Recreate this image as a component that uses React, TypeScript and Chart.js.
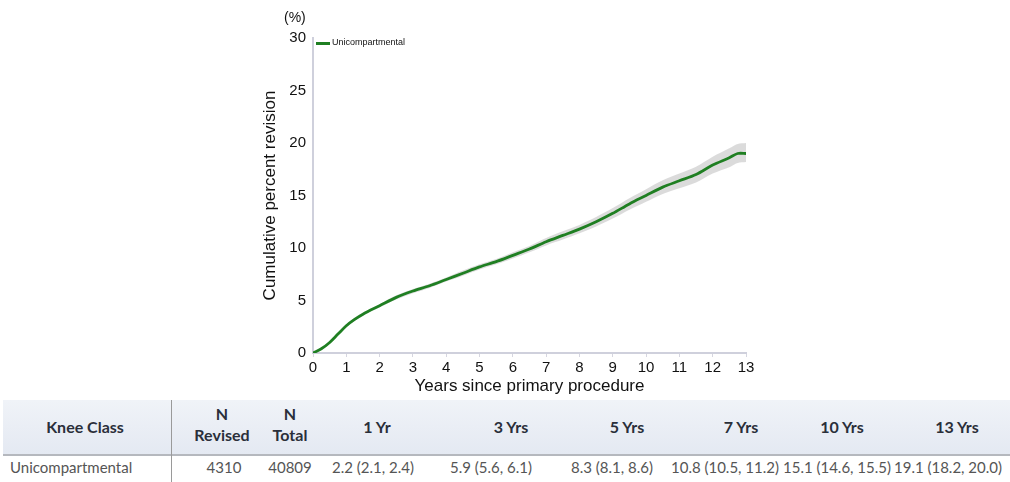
import React, { useEffect, useRef } from "react";
import { Chart, registerables } from "chart.js";

Chart.register(...registerables);

const years = [0, 0.25, 0.5, 0.75, 1, 1.25, 1.5, 2, 2.5, 3, 3.5, 4, 4.5, 5, 5.5, 6, 6.5, 7, 7.5, 8, 8.5, 9, 9.5, 10, 10.5, 11, 11.5, 12, 12.5, 12.75, 13];
const cumulative = [0, 0.4, 1.0, 1.8, 2.6, 3.2, 3.7, 4.5, 5.3, 5.9, 6.4, 7.0, 7.6, 8.2, 8.7, 9.3, 9.9, 10.6, 11.2, 11.8, 12.5, 13.3, 14.2, 15.0, 15.8, 16.4, 17.0, 17.9, 18.6, 19.0, 19.0];
const lowerCI = [0, 0.35, 0.9, 1.7, 2.45, 3.05, 3.55, 4.35, 5.1, 5.7, 6.2, 6.8, 7.35, 7.95, 8.45, 9.0, 9.6, 10.25, 10.8, 11.4, 12.05, 12.8, 13.65, 14.4, 15.15, 15.7, 16.25, 17.1, 17.7, 18.1, 18.2];
const upperCI = [0, 0.45, 1.1, 1.9, 2.75, 3.35, 3.85, 4.65, 5.5, 6.1, 6.6, 7.2, 7.85, 8.45, 8.95, 9.6, 10.2, 10.95, 11.6, 12.2, 12.95, 13.8, 14.75, 15.6, 16.45, 17.1, 17.75, 18.7, 19.5, 19.9, 20.0];

const yTicks = [0, 5, 10, 15, 20, 25, 30];
const xTickMax = 13;

const legendLabel = "Unicompartmental";
const yTitle = "Cumulative percent revision";
const xTitle = "Years since primary procedure";

const tableHeaders = ["Knee Class", "N\nRevised", "N\nTotal", "1 Yr", "3 Yrs", "5 Yrs", "7 Yrs", "10 Yrs", "13 Yrs"];
const tableRow = ["Unicompartmental", "4310", "40809", "2.2 (2.1, 2.4)", "5.9 (5.6, 6.1)", "8.3 (8.1, 8.6)", "10.8 (10.5, 11.2)", "15.1 (14.6, 15.5)", "19.1 (18.2, 20.0)"];

const headerCenters = [85, 222, 290, 377, 511, 627, 741, 842, 957];
const rowCenters = [null, 224, 290, 373, 491, 612, 725, 837, 948];

const GREEN = "#1f7f22";

export default function App() {
  const ref = useRef<HTMLCanvasElement | null>(null);

  useEffect(() => {
    if (!ref.current) return;
    const chart = new Chart(ref.current, {
      type: "line",
      data: {
        datasets: [
          {
            label: legendLabel,
            data: years.map((x, i) => ({ x, y: cumulative[i] })),
            borderColor: GREEN,
            borderWidth: 2.8,
            pointRadius: 0,
            fill: false,
            tension: 0.3,
            order: 0,
          },
          {
            label: "lower",
            data: years.map((x, i) => ({ x, y: lowerCI[i] })),
            borderWidth: 0,
            pointRadius: 0,
            fill: false,
            tension: 0.3,
            borderColor: "rgba(0,0,0,0)",
            order: 2,
          },
          {
            label: "upper",
            data: years.map((x, i) => ({ x, y: upperCI[i] })),
            borderWidth: 0,
            pointRadius: 0,
            fill: "-1",
            backgroundColor: "rgba(190,190,190,0.55)",
            tension: 0.3,
            borderColor: "rgba(0,0,0,0)",
            order: 1,
          },
        ],
      },
      options: {
        animation: false,
        responsive: false,
        layout: { padding: { left: 250, right: 264, top: 38, bottom: 0 } },
        plugins: { legend: { display: false }, tooltip: { enabled: false } },
        scales: {
          x: {
            type: "linear",
            min: 0,
            max: xTickMax,
            afterFit: (s: any) => { s.height = 45; },
            ticks: { stepSize: 1, color: "#111", font: { family: "Liberation Sans", size: 15 }, padding: 2, maxRotation: 0 },
            grid: { drawOnChartArea: false, drawTicks: true, tickLength: 4, color: "#d6d6e0" },
            border: { color: "#cfd0dc", width: 2 },
            title: { display: true, text: xTitle, color: "#111", font: { family: "Liberation Sans", size: 17 }, padding: { top: 0, bottom: 1 } },
          },
          y: {
            min: 0,
            max: 30,
            afterFit: (s: any) => { s.width = 63; },
            afterBuildTicks: (s: any) => { s.ticks = yTicks.map((v) => ({ value: v })); },
            ticks: { color: "#111", font: { family: "Liberation Sans", size: 15 }, padding: 7 },
            grid: { drawOnChartArea: false, drawTicks: false },
            border: { color: "#cfd0dc", width: 2 },
            title: { display: true, text: yTitle, color: "#111", font: { family: "Liberation Sans", size: 17 }, padding: { top: 10, bottom: 0 } },
          },
        },
      },
    });
    return () => chart.destroy();
  }, []);

  const tableFont = "Lato, 'Liberation Sans', sans-serif";

  return (
    <div style={{ position: "fixed", left: 0, top: 0, width: 1010, height: 482, background: "#fff", overflow: "hidden" }}>
      <canvas ref={ref} width={1010} height={398} style={{ position: "absolute", left: 0, top: 0, width: 1010, height: 398 }} />
      <div style={{ position: "absolute", left: 284, top: 9, font: "14px 'Liberation Sans', sans-serif", color: "#111" }}>(%)</div>
      <div style={{ position: "absolute", left: 316, top: 42, width: 14, height: 3, background: GREEN }} />
      <div style={{ position: "absolute", left: 332, top: 37, font: "9px 'Liberation Sans', sans-serif", color: "#111" }}>{legendLabel}</div>
      <div style={{ position: "absolute", left: 3, top: 400, width: 1007, height: 54, background: "linear-gradient(#f0f3f8, #e4e9f2)", borderBottom: "2px solid #b5b8be" }} />
      <div style={{ position: "absolute", left: 171, top: 400, width: 1, height: 82, background: "#9a9a9a" }} />
      {tableHeaders.map((h, i) => (
        <div key={"h" + i} style={{ position: "absolute", left: headerCenters[i] - 70, width: 140, top: h.includes("\n") ? 403 : 416, textAlign: "center", whiteSpace: "pre", font: `bold 16px ${tableFont}`, lineHeight: "21px", color: "#2a2f3a" }}>{h}</div>
      ))}
      {tableRow.map((t, i) => (
        <div key={"r" + i} style={i === 0
          ? { position: "absolute", left: 10, top: 458, font: `15px ${tableFont}`, color: "#555", whiteSpace: "pre" }
          : { position: "absolute", left: (rowCenters[i] as number) - 70, width: 140, top: 458, textAlign: "center", font: `15px ${tableFont}`, color: "#555", whiteSpace: "pre" }}>{t}</div>
      ))}
    </div>
  );
}
